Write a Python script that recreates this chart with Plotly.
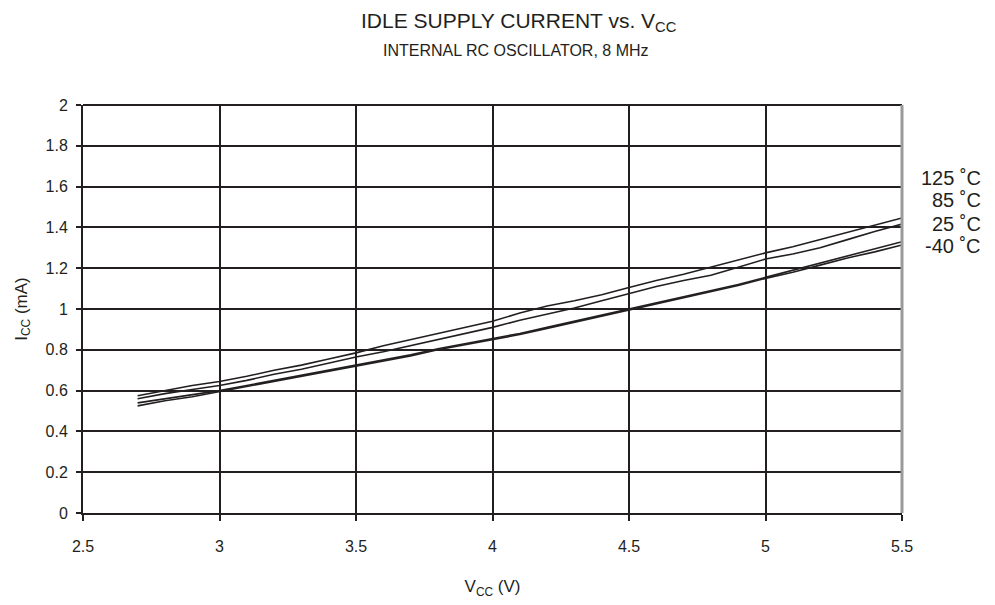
import plotly.graph_objects as go

vcc = [2.7, 2.8, 2.9, 3.0, 3.1, 3.2, 3.3, 3.4, 3.5, 3.6, 3.7, 3.8, 3.9, 4.0, 4.1,
       4.2, 4.3, 4.4, 4.5, 4.6, 4.7, 4.8, 4.9, 5.0, 5.1, 5.2, 5.3, 5.4, 5.5]

icc_125 = [0.575, 0.600, 0.625, 0.645, 0.670, 0.700, 0.725, 0.755, 0.785, 0.820,
           0.850, 0.880, 0.910, 0.940, 0.980, 1.015, 1.040, 1.070, 1.105, 1.140,
           1.170, 1.205, 1.240, 1.275, 1.305, 1.340, 1.375, 1.410, 1.446]
icc_85 = [0.560, 0.585, 0.605, 0.625, 0.650, 0.680, 0.705, 0.735, 0.765, 0.790,
          0.820, 0.850, 0.880, 0.910, 0.945, 0.975, 1.005, 1.040, 1.075, 1.110,
          1.140, 1.165, 1.205, 1.245, 1.270, 1.300, 1.340, 1.380, 1.416]
icc_25 = [0.540, 0.560, 0.580, 0.600, 0.625, 0.650, 0.675, 0.700, 0.725, 0.750,
          0.775, 0.805, 0.830, 0.855, 0.880, 0.910, 0.940, 0.970, 1.000, 1.030,
          1.060, 1.090, 1.120, 1.155, 1.190, 1.225, 1.260, 1.295, 1.330]
icc_m40 = [0.525, 0.550, 0.570, 0.595, 0.620, 0.645, 0.670, 0.695, 0.720, 0.745,
           0.770, 0.800, 0.825, 0.850, 0.875, 0.905, 0.935, 0.965, 0.995, 1.025,
           1.055, 1.085, 1.115, 1.150, 1.180, 1.215, 1.250, 1.280, 1.314]

series_names = ["125 ˚C", "85 ˚C", "25 ˚C", "-40 ˚C"]
series_values = [icc_125, icc_85, icc_25, icc_m40]
label_y = [1.641, 1.536, 1.416, 1.311]

x_ticks = [2.5, 3, 3.5, 4, 4.5, 5, 5.5]
y_ticks = [0, 0.2, 0.4, 0.6, 0.8, 1, 1.2, 1.4, 1.6, 1.8, 2]

FONT = "Liberation Sans, Arial, sans-serif"
INK = "#231f20"

fig = go.Figure()
for name, vals in zip(series_names, series_values):
    fig.add_trace(go.Scatter(x=vcc, y=vals, mode="lines", name=name,
                             line=dict(color=INK, width=1.6), showlegend=False))

fig.update_layout(
    width=987, height=597,
    margin=dict(l=71, r=93, t=97, b=82),
    paper_bgcolor="white", plot_bgcolor="white",
    font=dict(family=FONT, color=INK),
    xaxis=dict(range=[2.5, 5.5], tickvals=x_ticks, ticktext=[f"{v:g}" for v in x_ticks],
               showgrid=True, gridcolor=INK, gridwidth=2,
               showline=True, linecolor=INK, linewidth=2,
               ticks="outside", ticklen=6, tickcolor=INK, tickwidth=1.5,
               ticklabelstandoff=12,
               tickfont=dict(family=FONT, size=16, color=INK),
               zeroline=False,
               title=dict(text="V<sub>CC</sub> (V)", font=dict(family=FONT, size=17, color=INK),
                          standoff=26)),
    yaxis=dict(range=[0, 2], tickvals=y_ticks, ticktext=[f"{v:g}" for v in y_ticks],
               showgrid=True, gridcolor=INK, gridwidth=2,
               showline=True, linecolor=INK, linewidth=2,
               ticks="outside", ticklen=5, tickcolor=INK, tickwidth=1.5,
               ticklabelstandoff=5,
               tickfont=dict(family=FONT, size=16, color=INK),
               zeroline=False,
               title=dict(text="I<sub>CC</sub> (mA)", font=dict(family=FONT, size=17, color=INK),
                          standoff=14)),
)

for name, ly in zip(series_names, label_y):
    fig.add_annotation(x=1.0984, xref="paper", y=ly, yref="y", text=name,
                       showarrow=False, xanchor="right", yanchor="middle",
                       font=dict(family=FONT, size=20, color=INK))

fig.add_annotation(x=0.532, xref="paper", y=1, yref="paper", yshift=83, yanchor="middle",
                   text="IDLE SUPPLY CURRENT vs. V<sub>CC</sub>", showarrow=False,
                   font=dict(family=FONT, size=21, color=INK))
fig.add_annotation(x=0.529, xref="paper", y=1, yref="paper", yshift=55, yanchor="middle",
                   text="INTERNAL RC OSCILLATOR, 8 MHz", showarrow=False,
                   font=dict(family=FONT, size=16, color=INK))

fig.add_shape(type="line", xref="paper", yref="paper", x0=0, x1=1, y0=1, y1=1,
              line=dict(color=INK, width=2))
fig.add_shape(type="line", xref="paper", yref="paper", x0=1, x1=1, y0=0, y1=1,
              line=dict(color="#9a9a9a", width=3))

fig.write_html("out.html")
